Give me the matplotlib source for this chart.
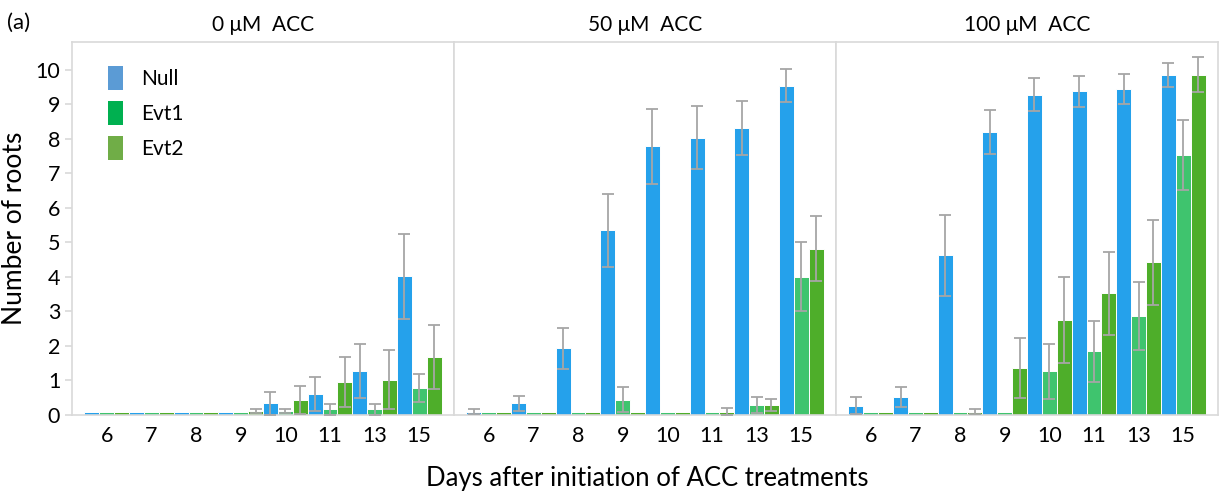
import matplotlib
matplotlib.use("Agg")
import matplotlib.pyplot as plt
from matplotlib.patches import Patch
import numpy as np

plt.rcParams['font.family'] = ['Lato', 'DejaVu Sans']

days = ["6", "7", "8", "9", "10", "11", "13", "15"]
panels = ["0 \u03bcM  ACC", "50 \u03bcM  ACC", "100 \u03bcM  ACC"]
series = ["Null", "Evt1", "Evt2"]

# 0 uM ACC
null_0 = [0.08, 0.08, 0.08, 0.08, 0.34, 0.60, 1.28, 4.02]
null_0_err = [0, 0, 0, 0, 0.34, 0.49, 0.78, 1.23]
evt1_0 = [0.08, 0.08, 0.08, 0.08, 0.12, 0.17, 0.17, 0.79]
evt1_0_err = [0, 0, 0, 0, 0.05, 0.16, 0.16, 0.40]
evt2_0 = [0.08, 0.08, 0.08, 0.12, 0.43, 0.95, 1.02, 1.67]
evt2_0_err = [0, 0, 0, 0.06, 0.41, 0.72, 0.85, 0.93]

# 50 uM ACC
null_50 = [0.10, 0.34, 1.93, 5.35, 7.78, 8.03, 8.30, 9.54]
null_50_err = [0.06, 0.21, 0.59, 1.06, 1.08, 0.92, 0.78, 0.49]
evt1_50 = [0.08, 0.08, 0.08, 0.44, 0.08, 0.08, 0.29, 4.01]
evt1_50_err = [0, 0, 0, 0.36, 0, 0, 0.22, 1.01]
evt2_50 = [0.08, 0.08, 0.08, 0.08, 0.08, 0.10, 0.29, 4.81]
evt2_50_err = [0, 0, 0, 0, 0, 0.10, 0.17, 0.94]

# 100 uM ACC
null_100 = [0.27, 0.52, 4.62, 8.19, 9.27, 9.37, 9.44, 9.85]
null_100_err = [0.25, 0.28, 1.16, 0.64, 0.48, 0.45, 0.43, 0.35]
evt1_100 = [0.08, 0.08, 0.08, 0.08, 1.26, 1.84, 2.86, 7.52]
evt1_100_err = [0, 0, 0, 0, 0.80, 0.89, 0.98, 1.01]
evt2_100 = [0.08, 0.08, 0.10, 1.36, 2.76, 3.53, 4.42, 9.85]
evt2_100_err = [0, 0, 0.06, 0.86, 1.25, 1.20, 1.24, 0.51]

values = [[null_0, evt1_0, evt2_0],
          [null_50, evt1_50, evt2_50],
          [null_100, evt1_100, evt2_100]]
errors = [[null_0_err, evt1_0_err, evt2_0_err],
          [null_50_err, evt1_50_err, evt2_50_err],
          [null_100_err, evt1_100_err, evt2_100_err]]

bar_colors = ["#25A1EB", "#3FC46E", "#4EAE2A"]
legend_colors = ["#5B9BD5", "#00B050", "#70AD47"]
frame_color = "#D9D9D9"

fig, axes = plt.subplots(1, 3, figsize=(12.25, 4.98), dpi=100, sharey=True)
fig.subplots_adjust(left=72 / 1225, right=1218 / 1225, top=1 - 42 / 498,
                    bottom=1 - 415 / 498, wspace=0)

x = np.arange(len(days))
w = 1 / 3
for p, ax in enumerate(axes):
    for s in range(3):
        vals = np.array(values[p][s])
        errs = np.array(errors[p][s])
        pos = x + (s - 1) * w
        ax.bar(pos, vals, width=w, color=bar_colors[s], edgecolor="white",
               linewidth=0.7, zorder=2)
        mask = errs > 0
        ax.errorbar(pos[mask], vals[mask], yerr=errs[mask], fmt="none",
                    ecolor="#A6A6A6", elinewidth=1.3, capsize=4.5,
                    capthick=1.3, zorder=3)
    ax.set_xlim(-0.78, 7.78)
    ax.set_ylim(0, 10.8)
    ax.set_xticks(x)
    ax.set_xticklabels(days, fontsize=15.5)
    ax.tick_params(axis="x", length=0, pad=8)
    for sp in ax.spines.values():
        sp.set_color(frame_color)
        sp.set_linewidth(1.2)
    ax.set_title(panels[p], fontsize=15, pad=8)
    if p > 0:
        ax.tick_params(axis="y", length=0)

axes[0].set_yticks(range(0, 11))
axes[0].tick_params(axis="y", labelsize=15.5, length=5, color=frame_color, width=1.2)
axes[0].set_ylabel("Number of roots", fontsize=19, labelpad=6)

handles = [Patch(facecolor=c, edgecolor="none") for c in legend_colors]
axes[0].legend(handles, series, loc="upper left", bbox_to_anchor=(0.045, 0.985),
               frameon=False, fontsize=15, handlelength=0.7, handleheight=1.4,
               labelspacing=0.52, handletextpad=0.9)

fig.text(0.528, 0.025, "Days after initiation of ACC treatments", ha="center",
         fontsize=18.5)
fig.text(0.006, 0.943, "(a)", fontsize=16)

fig.savefig("out.png", dpi=100)
